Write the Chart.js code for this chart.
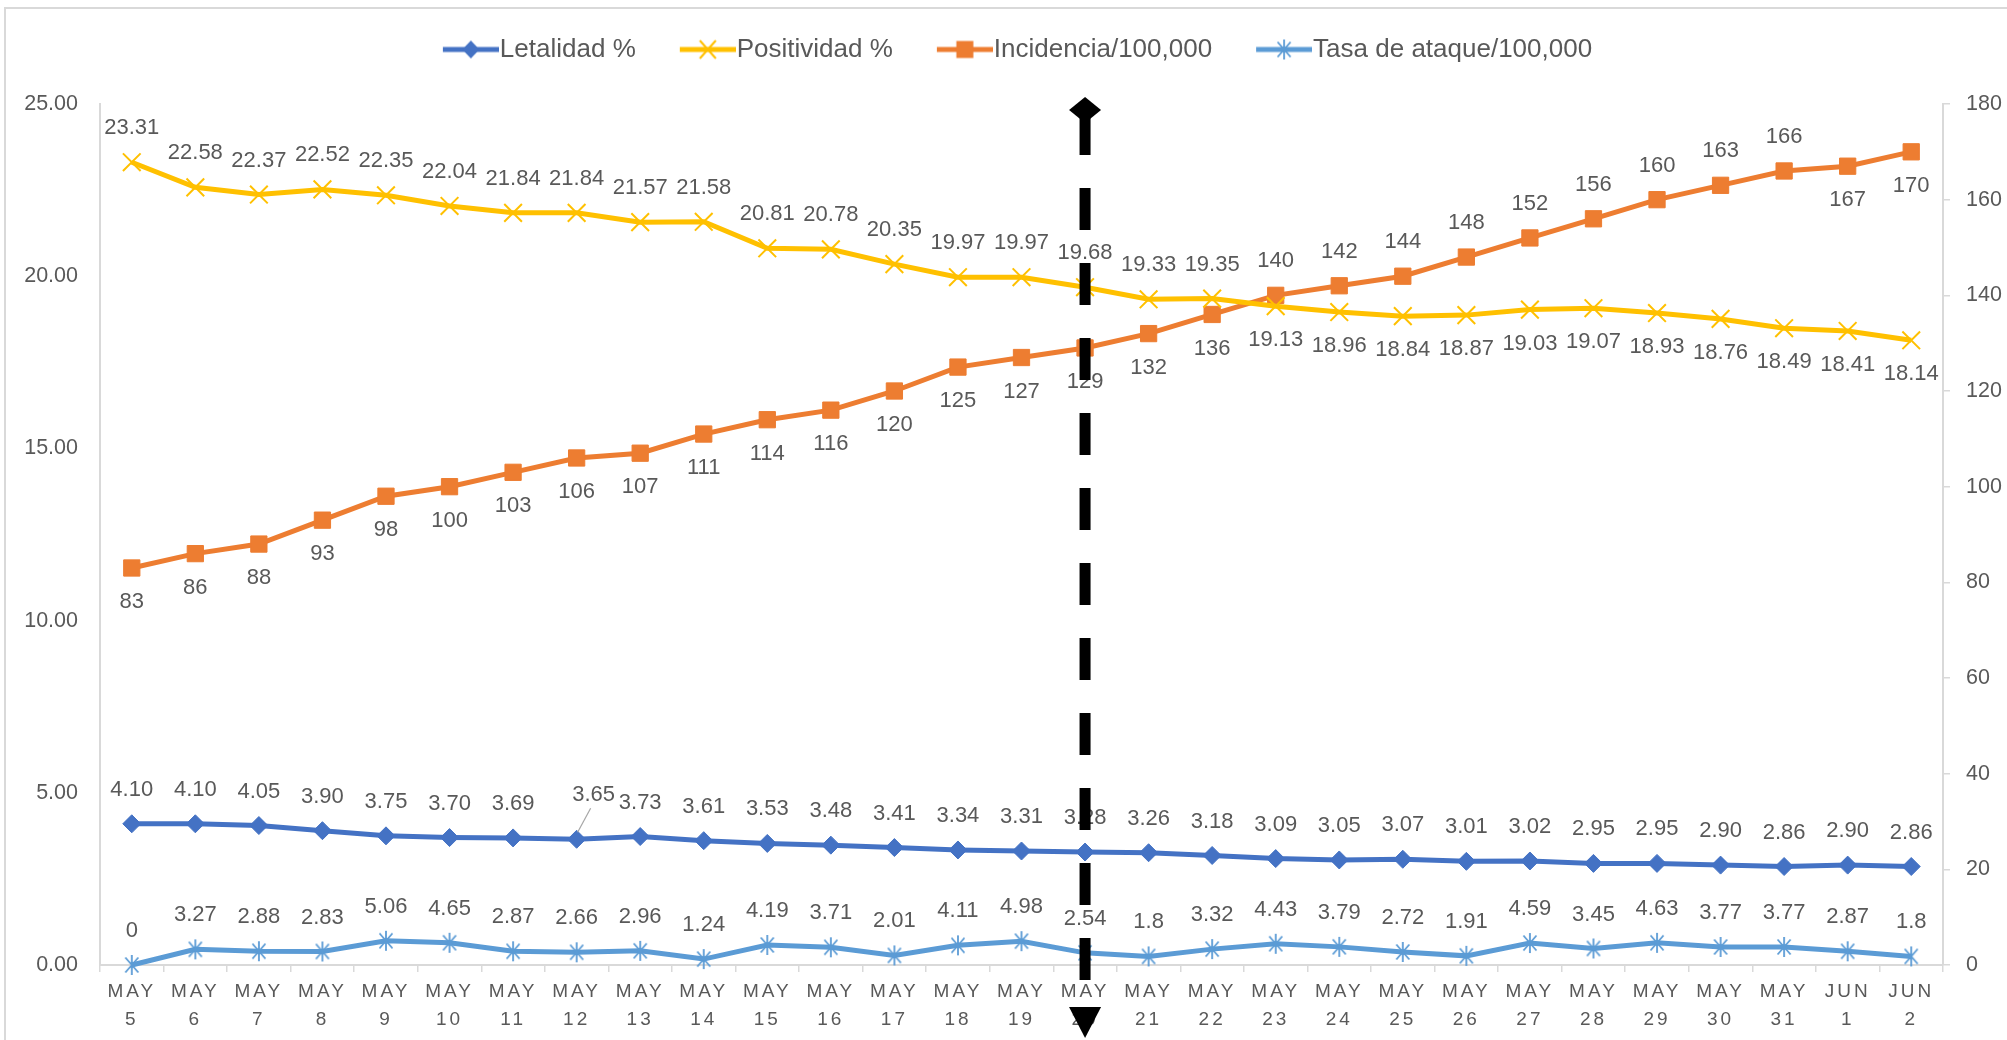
<!DOCTYPE html>
<html>
<head>
<meta charset="utf-8">
<script src="https://cdn.jsdelivr.net/npm/chart.js@4.4.1/dist/chart.umd.min.js"></script>
<style>
html,body{margin:0;padding:0;background:#ffffff;}
#wrap{width:2007px;height:1040px;position:relative;}
canvas{display:block;}
</style>
</head>
<body>
<div id="wrap"><canvas id="c" width="2007" height="1040"></canvas></div>
<script>
// ---------- DATA ----------
const months = ['MAY','MAY','MAY','MAY','MAY','MAY','MAY','MAY','MAY','MAY','MAY','MAY','MAY','MAY','MAY','MAY','MAY','MAY','MAY','MAY','MAY','MAY','MAY','MAY','MAY','MAY','MAY','JUN','JUN'];
const days = ['5','6','7','8','9','10','11','12','13','14','15','16','17','18','19','20','21','22','23','24','25','26','27','28','29','30','31','1','2'];

const letalidad = [4.10,4.10,4.05,3.90,3.75,3.70,3.69,3.65,3.73,3.61,3.53,3.48,3.41,3.34,3.31,3.28,3.26,3.18,3.09,3.05,3.07,3.01,3.02,2.95,2.95,2.90,2.86,2.90,2.86];
const positividad = [23.31,22.58,22.37,22.52,22.35,22.04,21.84,21.84,21.57,21.58,20.81,20.78,20.35,19.97,19.97,19.68,19.33,19.35,19.13,18.96,18.84,18.87,19.03,19.07,18.93,18.76,18.49,18.41,18.14];
const incidencia = [83,86,88,93,98,100,103,106,107,111,114,116,120,125,127,129,132,136,140,142,144,148,152,156,160,163,166,167,170];
const tasaAtaque = [0,3.27,2.88,2.83,5.06,4.65,2.87,2.66,2.96,1.24,4.19,3.71,2.01,4.11,4.98,2.54,1.8,3.32,4.43,3.79,2.72,1.91,4.59,3.45,4.63,3.77,3.77,2.87,1.8];

const seriesNames = ['Letalidad %','Positividad %','Incidencia/100,000','Tasa de ataque/100,000'];
const leftAxis = {min:0, max:25, step:5};
const rightAxis = {min:0, max:180, step:20};
const markedCategory = 15; // MAY 20

// ---------- STYLE ----------
const COLORS = ['#4472C4','#FFC000','#ED7D31','#5B9BD5'];
const TEXT = '#595959';
const AXIS = '#D9D9D9';
const FONT = 'Liberation Sans';
Chart.defaults.font.family = FONT;

function drawMarker(g, kind, color, x, y) {
  g.save();
  g.fillStyle = color; g.strokeStyle = color;
  if (kind === 'diamond') {
    g.beginPath(); g.moveTo(x, y-9); g.lineTo(x+8.5, y); g.lineTo(x, y+9); g.lineTo(x-8.5, y); g.closePath(); g.fill();
  } else if (kind === 'x') {
    g.lineWidth = 2; g.beginPath();
    g.moveTo(x-8, y-9); g.lineTo(x+8, y+9); g.moveTo(x-8, y+9); g.lineTo(x+8, y-9); g.stroke();
  } else if (kind === 'square') {
    g.fillRect(x-8.5, y-8.5, 17, 17);
  } else if (kind === 'star') {
    g.lineWidth = 1.8; g.beginPath();
    g.moveTo(x, y-10); g.lineTo(x, y+10);
    g.moveTo(x-6.5, y-7.5); g.lineTo(x+6.5, y+7.5);
    g.moveTo(x-6.5, y+7.5); g.lineTo(x+6.5, y-7.5);
    g.stroke();
  }
  g.restore();
}
function starCanvas(color) {
  const c = document.createElement('canvas'); c.width = 22; c.height = 22;
  drawMarker(c.getContext('2d'), 'star', color, 11, 11);
  return c;
}
const KINDS = ['diamond','x','square','star'];
function legendCanvas(i) {
  const c = document.createElement('canvas'); c.width = 80; c.height = 28;
  const g = c.getContext('2d');
  g.strokeStyle = COLORS[i]; g.lineWidth = 5;
  g.beginPath(); g.moveTo(24, 14); g.lineTo(80, 14); g.stroke();
  drawMarker(g, KINDS[i], COLORS[i], 52, 14);
  return c;
}
const legendImgs = [0,1,2,3].map(legendCanvas);

// label placement: true = below the point
const labelBelow = [
  i => false,
  i => i >= 18,
  i => (i <= 17 || i >= 27),
  i => false
];
const labelFormat = [
  v => v.toFixed(2),
  v => v.toFixed(2),
  v => String(v),
  v => String(v)
];

const framePlugin = {
  id: 'frame',
  beforeDraw(chart) {
    const ctx = chart.ctx;
    ctx.save();
    ctx.strokeStyle = AXIS; ctx.lineWidth = 2;
    ctx.strokeRect(5, 8, 2100, 1100);
    ctx.restore();
    const xs = chart.scales.x;
    if (xs && !xs._spaced) {
      const orig = xs.drawLabels.bind(xs);
      xs.drawLabels = function(area) {
        const c = this.ctx; c.save(); c.letterSpacing = '3px'; orig(area); c.restore();
      };
      xs._spaced = true;
    }
  }
};

const legendFitPlugin = {
  id: 'legendFit',
  afterInit(chart) {
    const lg = chart.legend;
    if (lg) {
      const of = lg.fit.bind(lg);
      lg.fit = function() { of(); this.height = 99.5; };
      const od = lg.draw.bind(lg);
      lg.draw = function() { const c = this.ctx; c.save(); c.translate(8, 0); od(); c.restore(); };
    }
  }
};

const labelsPlugin = {
  id: 'pointLabels',
  afterDatasetsDraw(chart) {
    const ctx = chart.ctx;
    ctx.save();
    ctx.font = '22px "' + FONT + '"';
    ctx.fillStyle = TEXT; ctx.textAlign = 'center'; ctx.textBaseline = 'middle';
    chart.data.datasets.forEach((ds, di) => {
      const meta = chart.getDatasetMeta(di);
      meta.data.forEach((pt, i) => {
        const txt = labelFormat[di](ds.data[i]);
        let x = pt.x, y = pt.y + (labelBelow[di](i) ? 34 : -34);
        if (di === 0 && i === 7) {
          x = pt.x + 17; y = pt.y - 44;
          ctx.save(); ctx.strokeStyle = '#A6A6A6'; ctx.lineWidth = 1.2;
          ctx.beginPath(); ctx.moveTo(x - 3, y + 13); ctx.lineTo(pt.x + 1, pt.y - 7); ctx.stroke(); ctx.restore();
        }
        ctx.fillText(txt, x, y);
      });
    });
    ctx.restore();
  }
};

const arrowPlugin = {
  id: 'arrow',
  afterDraw(chart) {
    const ctx = chart.ctx;
    const x = chart.scales.x.getPixelForValue(markedCategory);
    ctx.save();
    ctx.strokeStyle = '#000'; ctx.fillStyle = '#000';
    ctx.lineWidth = 11; ctx.setLineDash([42, 33]);
    ctx.beginPath(); ctx.moveTo(x, 113); ctx.lineTo(x, 1007); ctx.stroke();
    ctx.setLineDash([]);
    ctx.beginPath(); ctx.moveTo(x, 97); ctx.lineTo(x + 16, 110); ctx.lineTo(x, 123); ctx.lineTo(x - 16, 110); ctx.closePath(); ctx.fill();
    ctx.beginPath(); ctx.moveTo(x - 16, 1007); ctx.lineTo(x + 16, 1007); ctx.lineTo(x, 1038); ctx.closePath(); ctx.fill();
    ctx.restore();
  }
};

const labels = months.map((m, i) => [m, days[i]]);
const common = {borderWidth: 5, tension: 0, clip: false, fill: false};

new Chart(document.getElementById('c'), {
  type: 'line',
  data: {
    labels: labels,
    datasets: [
      Object.assign({label: seriesNames[0], data: letalidad, yAxisID: 'y', borderColor: COLORS[0], backgroundColor: COLORS[0],
        pointStyle: 'rectRot', pointRadius: 9, pointBackgroundColor: COLORS[0], pointBorderColor: COLORS[0], pointBorderWidth: 1}, common),
      Object.assign({label: seriesNames[1], data: positividad, yAxisID: 'y', borderColor: COLORS[1], backgroundColor: COLORS[1],
        pointStyle: 'crossRot', pointRadius: 12.5, pointBorderColor: COLORS[1], pointBorderWidth: 2}, common),
      Object.assign({label: seriesNames[2], data: incidencia, yAxisID: 'y1', borderColor: COLORS[2], backgroundColor: COLORS[2],
        pointStyle: 'rect', pointRadius: 11.5, pointBackgroundColor: COLORS[2], pointBorderColor: COLORS[2], pointBorderWidth: 1}, common),
      Object.assign({label: seriesNames[3], data: tasaAtaque, yAxisID: 'y1', borderColor: COLORS[3], backgroundColor: COLORS[3],
        pointStyle: starCanvas(COLORS[3]), pointRadius: 10}, common)
    ]
  },
  options: {
    responsive: false,
    devicePixelRatio: 1,
    animation: false,
    events: [],
    layout: {padding: {top: 4.5, left: 0, right: 0, bottom: 0}},
    plugins: {
      tooltip: {enabled: false},
      legend: {
        position: 'top',
        labels: {
          usePointStyle: true, pointStyleWidth: 56, padding: 32, color: TEXT,
          font: {family: FONT, size: 26},
          generateLabels(chart) {
            const items = Chart.defaults.plugins.legend.labels.generateLabels(chart);
            items.forEach(it => { it.pointStyle = legendImgs[it.datasetIndex]; });
            return items;
          }
        }
      }
    },
    scales: {
      x: {
        type: 'category', offset: true,
        grid: {display: true, drawOnChartArea: false, offset: true, tickLength: 7, color: AXIS, lineWidth: 1.5},
        border: {color: AXIS, width: 2},
        ticks: {color: TEXT, font: {family: FONT, size: 19, lineHeight: 1.47}, padding: 6, maxRotation: 0, autoSkip: false},
        afterFit: s => { s.height = 75; }
      },
      y: {
        position: 'left', min: leftAxis.min, max: leftAxis.max,
        ticks: {stepSize: leftAxis.step, callback: v => Number(v).toFixed(2), color: TEXT, font: {family: FONT, size: 21.5}, padding: 22},
        grid: {display: true, drawOnChartArea: false, drawTicks: false, color: AXIS},
        border: {color: AXIS, width: 2},
        afterFit: s => { s.width = 100; }
      },
      y1: {
        position: 'right', min: rightAxis.min, max: rightAxis.max,
        ticks: {stepSize: rightAxis.step, color: TEXT, font: {family: FONT, size: 21.5}, padding: 16},
        grid: {display: true, drawOnChartArea: false, tickLength: 7, color: AXIS, lineWidth: 1.5},
        border: {color: AXIS, width: 2},
        afterFit: s => { s.width = 64; }
      }
    }
  },
  plugins: [framePlugin, legendFitPlugin, labelsPlugin, arrowPlugin]
});
</script>
</body>
</html>
